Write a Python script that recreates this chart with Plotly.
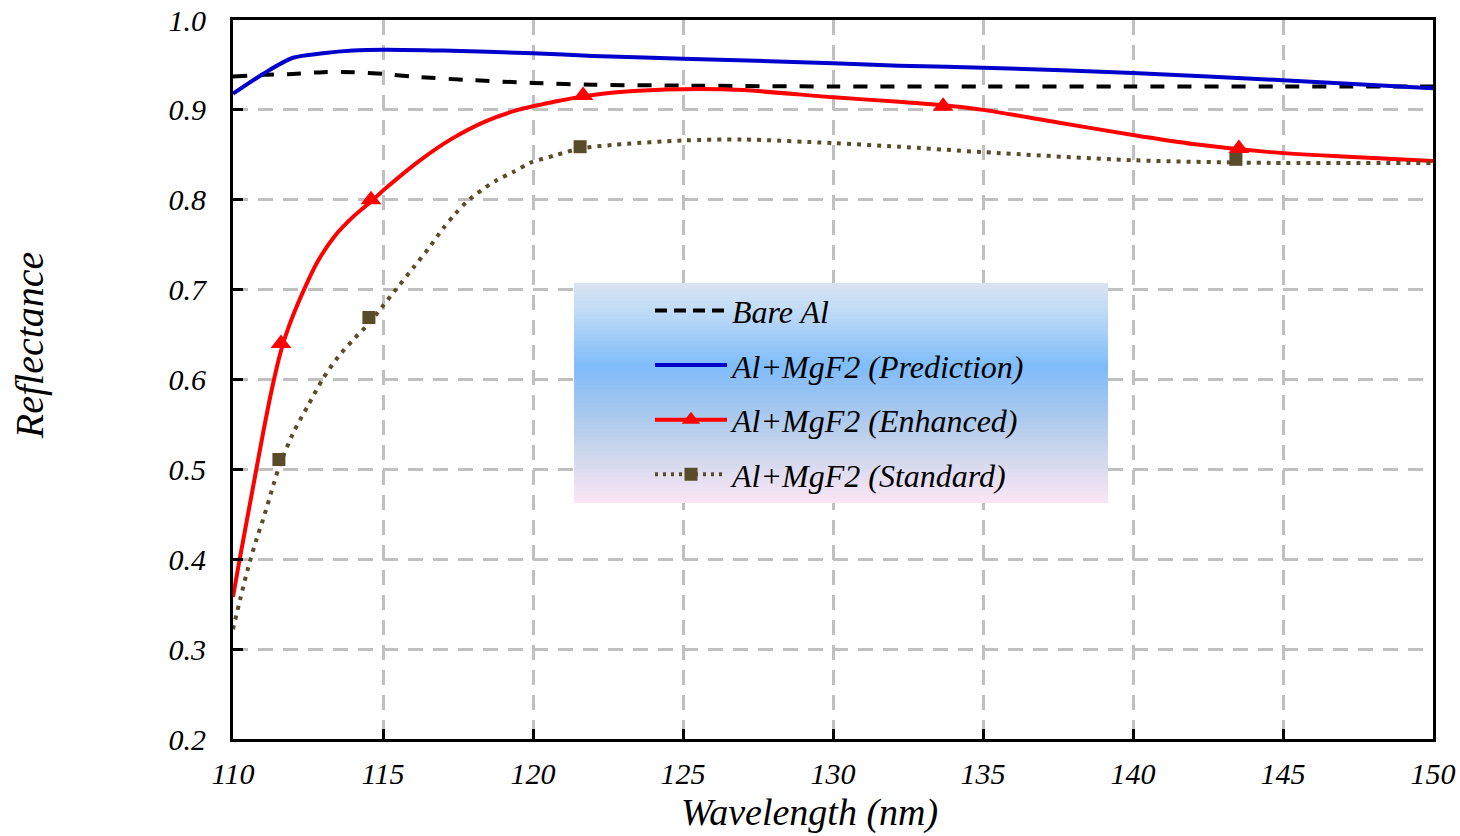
import plotly.graph_objects as go

# ---------------- data ----------------
bare_x = [110, 111, 112, 113, 114, 115, 116, 118, 120, 122, 125, 130, 135, 140, 145, 150]
bare_y = [0.937, 0.939, 0.940, 0.942, 0.942, 0.940, 0.937, 0.933, 0.930, 0.928, 0.927, 0.926, 0.926, 0.926, 0.926, 0.926]

pred_x = [110, 111, 112, 113, 114, 115, 117, 120, 122, 125, 130, 132.2, 135, 140, 145, 150]
pred_y = [0.918, 0.940, 0.958, 0.963, 0.966, 0.967, 0.966, 0.963, 0.960, 0.957, 0.952, 0.949, 0.947, 0.941, 0.933, 0.924]

enh_x = [110, 110.2, 110.6, 111.0, 111.3, 111.6, 111.85, 112.3, 112.8, 113.4, 114.0, 114.6, 115.1, 116.2, 117.3,
         118.4, 119.5, 120.7, 121.67, 122.9, 125, 127, 130, 132.2, 134, 135, 137.5, 140, 142, 144.57, 147, 150]
enh_y = [0.358, 0.396, 0.468, 0.540, 0.590, 0.632, 0.658, 0.695, 0.730, 0.760, 0.781, 0.798, 0.813, 0.843, 0.868,
         0.887, 0.900, 0.909, 0.915, 0.920, 0.923, 0.922, 0.914, 0.909, 0.904, 0.900, 0.886, 0.872, 0.862, 0.853, 0.848, 0.843]
enh_mx = [111.6, 114.6, 121.67, 133.67, 143.53]
enh_my = [0.640, 0.800, 0.916, 0.904, 0.857]

std_x = [110, 110.25, 110.5, 110.8, 111.0, 111.35, 111.55, 112.0, 112.5, 113.0, 113.5, 114.0, 114.55, 115.0, 115.5,
         116.0, 116.5, 117.0, 117.4, 117.8, 118.3, 118.8, 119.35, 119.9, 120.8, 121.57, 122.67, 125, 127, 130,
         132.2, 135, 140, 144.57, 150]
std_y = [0.322, 0.357, 0.390, 0.424, 0.444, 0.483, 0.504, 0.540, 0.571, 0.601, 0.625, 0.644, 0.663, 0.682, 0.703,
         0.724, 0.745, 0.768, 0.784, 0.798, 0.811, 0.822, 0.831, 0.841, 0.850, 0.857, 0.861, 0.866, 0.867, 0.863,
         0.859, 0.853, 0.844, 0.841, 0.841]
std_mx = [111.53, 114.53, 121.57, 143.43]
std_my = [0.511, 0.669, 0.859, 0.845]

names = ["Bare Al", "Al+MgF2 (Prediction)", "Al+MgF2 (Enhanced)", "Al+MgF2 (Standard)"]
x_ticks = [110, 115, 120, 125, 130, 135, 140, 145, 150]
y_ticks = [0.2, 0.3, 0.4, 0.5, 0.6, 0.7, 0.8, 0.9, 1.0]

# ---------------- styles ----------------
FONT = "Liberation Serif, Times New Roman, serif"
C_BARE = "black"
C_PRED = "#0000cc"
C_ENH = "#ff0000"
C_STD = "#594d29"
DASH_BARE = "14px,13px"
DASH_STD = "4px,6px"

fig = go.Figure()

fig.add_trace(go.Scatter(x=bare_x, y=bare_y, mode="lines", line=dict(color=C_BARE, width=4, dash=DASH_BARE, shape="spline", smoothing=0.8),
                         showlegend=False, hoverinfo="skip"))
fig.add_trace(go.Scatter(x=pred_x, y=pred_y, mode="lines", line=dict(color=C_PRED, width=4, shape="spline", smoothing=0.8),
                         showlegend=False, hoverinfo="skip"))
fig.add_trace(go.Scatter(x=enh_x, y=enh_y, mode="lines", line=dict(color=C_ENH, width=4, shape="spline", smoothing=0.8),
                         showlegend=False, hoverinfo="skip"))
fig.add_trace(go.Scatter(x=std_x, y=std_y, mode="lines", line=dict(color=C_STD, width=4, dash=DASH_STD, shape="spline", smoothing=0.8),
                         showlegend=False, hoverinfo="skip"))
fig.add_trace(go.Scatter(x=enh_mx, y=enh_my, mode="markers", marker=dict(symbol="triangle-up", size=18, color=C_ENH),
                         showlegend=False))
fig.add_trace(go.Scatter(x=std_mx, y=std_my, mode="markers", marker=dict(symbol="square", size=13, color=C_STD),
                         showlegend=False))

# legend entries
fig.add_trace(go.Scatter(x=[None], y=[None], mode="lines", name=names[0], legendgroup="a",
                         line=dict(color=C_BARE, width=4, dash="12px,7px")))
fig.add_trace(go.Scatter(x=[None], y=[None], mode="lines", name=names[1], legendgroup="b",
                         line=dict(color=C_PRED, width=4)))
fig.add_trace(go.Scatter(x=[None], y=[None], mode="lines+markers", name=names[2], legendgroup="c",
                         line=dict(color=C_ENH, width=4), marker=dict(symbol="triangle-up", size=18, color=C_ENH)))
fig.add_trace(go.Scatter(x=[None], y=[None], mode="lines+markers", name=names[3], legendgroup="d",
                         line=dict(color=C_STD, width=4, dash="3px,5px"), marker=dict(symbol="square", size=13, color=C_STD)))

# gradient legend background
def hex2rgb(h):
    h = h.lstrip("#")
    return tuple(int(h[i:i + 2], 16) for i in (0, 2, 4))

stops = [(0.0, "#d9e4f2"), (0.12, "#c3dcf5"), (0.38, "#7fbcfb"), (0.6, "#a9c8ee"), (0.75, "#c8d5ec"), (1.0, "#fbe6f6")]
bx0, bx1, by0, by1 = 0.2842, 0.7292, 0.3282, 0.6342
n = 60
shapes = []
for i in range(n):
    t = (i + 0.5) / n
    for j in range(len(stops) - 1):
        if stops[j][0] <= t <= stops[j + 1][0]:
            a, b = stops[j], stops[j + 1]
            break
    f = (t - a[0]) / (b[0] - a[0])
    ca, cb = hex2rgb(a[1]), hex2rgb(b[1])
    c = tuple(round(ca[k] + (cb[k] - ca[k]) * f) for k in range(3))
    ytop = by1 - (by1 - by0) * i / n
    ybot = by1 - (by1 - by0) * (i + 1) / n
    shapes.append(dict(type="rect", xref="paper", yref="paper", x0=bx0, x1=bx1, y0=ybot, y1=min(by1, ytop + 0.001),
                       line=dict(width=0), fillcolor="rgb(%d,%d,%d)" % c, layer="above"))

axis_common = dict(
    showline=True, linecolor="black", linewidth=3, mirror=True,
    ticks="inside", ticklen=10, tickwidth=3, tickcolor="black",
    showgrid=True, gridcolor="#c0c0c0", gridwidth=3, griddash="15px,10px",
    zeroline=False, automargin=False,
    tickfont=dict(family=FONT, size=30, color="black", style="italic"),
)

fig.update_layout(
    width=1460, height=836,
    margin=dict(l=233, r=27, t=20, b=97),
    paper_bgcolor="white", plot_bgcolor="white",
    xaxis=dict(range=[110, 150], tickvals=x_ticks, ticktext=[str(v) for v in x_ticks], **axis_common,
               ticklabelstandoff=6),
    yaxis=dict(range=[0.2, 1.0], tickvals=y_ticks, ticktext=["%.1f" % v for v in y_ticks], **axis_common,
               ticklabelstandoff=18),
    shapes=shapes,
    showlegend=True,
    legend=dict(x=0.3475, y=0.634, xanchor="left", yanchor="top", bgcolor="rgba(0,0,0,0)", borderwidth=0,
                traceorder="grouped", tracegroupgap=10, itemwidth=72,
                font=dict(family=FONT, size=32, color="black", style="italic")),
    annotations=[
        dict(text="Reflectance", xref="paper", yref="paper", x=-0.169, y=0.548, showarrow=False, textangle=-90,
             font=dict(family=FONT, size=40, color="black", style="italic"), xanchor="center", yanchor="middle"),
        dict(text="Wavelength (nm)", xref="paper", yref="paper", x=0.48, y=-0.1335, showarrow=False,
             font=dict(family=FONT, size=38, color="black", style="italic"), xanchor="center", yanchor="bottom",
             borderpad=0),
    ],
)

fig.write_html("out.html")
